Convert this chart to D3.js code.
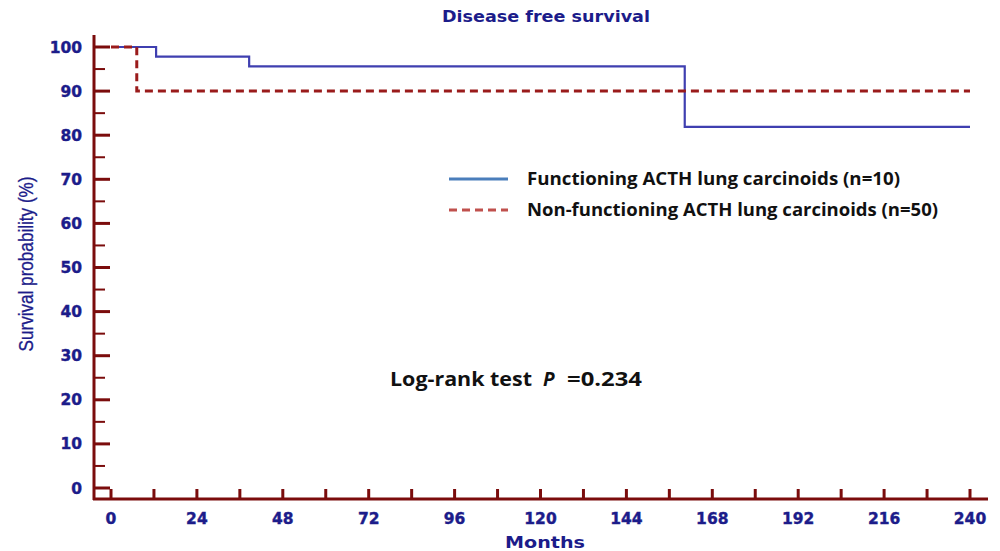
<!DOCTYPE html>
<html><head><meta charset="utf-8">
<script src="https://cdn.jsdelivr.net/npm/d3@7"></script>
<style>body{margin:0;background:#fff}svg{display:block}</style>
</head><body>
<script>
// Data (months, survival %)
const functioningTimes = [0, 12.6, 38.6, 160.3, 240];
const functioningSurv  = [100, 97.8, 95.6, 81.9, 81.9];
const nonFunctioningTimes = [0, 7.2, 240];
const nonFunctioningSurv  = [100, 90, 90];
const xTickValues = [0, 24, 48, 72, 96, 120, 144, 168, 192, 216, 240];
const yTickValues = [0, 10, 20, 30, 40, 50, 60, 70, 80, 90, 100];
const legendLabels = ["Functioning ACTH lung carcinoids (n=10)", "Non-functioning ACTH lung carcinoids (n=50)"];
const titleText = "Disease free survival";
const xTitle = "Months";
const yTitle = "Survival probability (%)";
const testText = "Log-rank test";
const pText = "P";
const pValue = "=0.234";

const W = 1000, H = 551;
const axisColor = "#7b0c0c", labelColor = "#1c1c8a";
const svg = d3.select("body").append("svg").attr("width", W).attr("height", H);

const x = d3.scaleLinear().domain([0, 240]).range([111, 970]);
const y = d3.scaleLinear().domain([0, 100]).range([488, 47]);
const axisY = 499, axisX = 94;

// Axes lines
svg.append("line").attr("x1", axisX).attr("x2", axisX).attr("y1", 35).attr("y2", axisY + 1)
  .attr("stroke", axisColor).attr("stroke-width", 3);
svg.append("line").attr("x1", axisX - 1).attr("x2", 988).attr("y1", axisY).attr("y2", axisY)
  .attr("stroke", axisColor).attr("stroke-width", 3);

// Y ticks (major + minor)
const yMinor = d3.range(5, 100, 10);
svg.selectAll(".ymaj").data(yTickValues).enter().append("line")
  .attr("x1", axisX).attr("x2", 110).attr("y1", d => y(d)).attr("y2", d => y(d))
  .attr("stroke", axisColor).attr("stroke-width", 3);
svg.selectAll(".ymin").data(yMinor).enter().append("line")
  .attr("x1", axisX).attr("x2", 105).attr("y1", d => y(d)).attr("y2", d => y(d))
  .attr("stroke", axisColor).attr("stroke-width", 2);
svg.selectAll(".ylab").data(yTickValues).enter().append("text")
  .attr("x", 82).attr("y", d => y(d)).attr("dy", "0.36em").attr("text-anchor", "end")
  .attr("font-family", "DejaVu Sans").attr("font-weight", "bold").attr("font-size", 15.5)
  .attr("fill", labelColor).attr("stroke", labelColor).attr("stroke-width", 0.4).text(d => d);

// X ticks every 12, labels every 24
const xTicksAll = d3.range(0, 241, 12);
svg.selectAll(".xt").data(xTicksAll).enter().append("line")
  .attr("x1", d => x(d)).attr("x2", d => x(d)).attr("y1", axisY).attr("y2", 489)
  .attr("stroke", axisColor).attr("stroke-width", 3);
svg.selectAll(".xlab").data(xTickValues).enter().append("text")
  .attr("x", d => x(d)).attr("y", 518).attr("dy", "0.36em").attr("text-anchor", "middle")
  .attr("font-family", "DejaVu Sans").attr("font-weight", "bold").attr("font-size", 15.5)
  .attr("fill", labelColor).attr("stroke", labelColor).attr("stroke-width", 0.4).text(d => d);

// Titles
svg.append("text").attr("x", 442).attr("y", 17).attr("dy", "0.36em")
  .attr("font-family", "DejaVu Sans").attr("font-weight", "bold").attr("font-size", 15)
  .attr("textLength", 208).attr("lengthAdjust", "spacingAndGlyphs")
  .attr("fill", labelColor).text(titleText);
svg.append("text").attr("x", 505).attr("y", 542).attr("dy", "0.36em")
  .attr("font-family", "DejaVu Sans").attr("font-weight", "bold").attr("font-size", 16.5)
  .attr("textLength", 80).attr("lengthAdjust", "spacingAndGlyphs")
  .attr("fill", labelColor).text(xTitle);
svg.append("text").attr("transform", "translate(26,264) rotate(-90)").attr("dy", "0.36em")
  .attr("text-anchor", "middle").attr("font-family", "Liberation Sans Narrow, Liberation Sans")
  .attr("font-size", 20).attr("fill", labelColor).attr("stroke", labelColor).attr("stroke-width", 0.3)
  .attr("textLength", 175).attr("lengthAdjust", "spacingAndGlyphs").text(yTitle);

// Curves
const line = d3.line().curve(d3.curveStepAfter).x(d => x(d[0])).y(d => y(d[1]));
const fData = functioningTimes.map((t, i) => [t, functioningSurv[i]]);
const nData = nonFunctioningTimes.map((t, i) => [t, nonFunctioningSurv[i]]);
svg.append("path").attr("d", line(fData)).attr("fill", "none")
  .attr("stroke", "#3f3fb0").attr("stroke-width", 2.2);
svg.append("path").attr("d", line(nData)).attr("fill", "none")
  .attr("stroke", "#9a1b1b").attr("stroke-width", 3).attr("stroke-dasharray", "8,5");

// Legend
const legendColors = ["#4a7ebb", "#c0504d"];
const legendDash = [null, "8,5"];
const legendY = [179, 210];
const legendWidths = [373, 411];
legendLabels.forEach((lab, i) => {
  svg.append("line").attr("x1", 449).attr("x2", 508).attr("y1", legendY[i]).attr("y2", legendY[i])
    .attr("stroke", legendColors[i]).attr("stroke-width", 3)
    .attr("stroke-dasharray", legendDash[i]);
  svg.append("text").attr("x", 527).attr("y", legendY[i]).attr("dy", "0.36em")
    .attr("font-family", "Open Sans").attr("font-weight", "bold").attr("font-size", 18)
    .attr("textLength", legendWidths[i]).attr("lengthAdjust", "spacingAndGlyphs")
    .attr("fill", "#111").text(lab);
});

// Log-rank annotation
const ann = svg.append("g").attr("font-family", "Open Sans").attr("font-weight", "bold")
  .attr("font-size", 19).attr("fill", "#111");
ann.append("text").attr("x", 390).attr("y", 379).attr("dy", "0.36em")
  .attr("textLength", 142).attr("lengthAdjust", "spacingAndGlyphs").text(testText);
ann.append("text").attr("x", 543).attr("y", 379).attr("dy", "0.36em")
  .attr("font-style", "italic").text(pText);
ann.append("text").attr("x", 567).attr("y", 379).attr("dy", "0.36em")
  .attr("textLength", 75).attr("lengthAdjust", "spacingAndGlyphs").text(pValue);
</script>
</body></html>
